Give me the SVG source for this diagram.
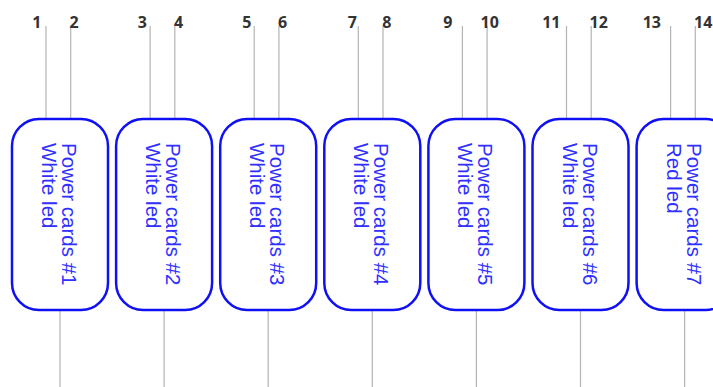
<svg xmlns="http://www.w3.org/2000/svg" width="713" height="387" viewBox="0 0 713 387">
<style>
.box{fill:#fff;stroke:#1010f5;stroke-width:2.5}
.lbl{font-family:"Liberation Sans",Arial,sans-serif;font-size:20.5px;fill:#3030ff}
.pin{stroke:#b4b4b4;stroke-width:1.2;fill:none}
.num{font-family:"Noto Sans","Open Sans",sans-serif;font-size:16px;font-weight:bold;fill:#333}
</style>
<rect width="713" height="387" fill="#fff"/>
<g id="connectors">
<path class="pin" d="M46,26V119M70.7,26V119M150.1,26V119M174.8,26V119M254.2,26V119M278.9,26V119M358.3,26V119M383,26V119M462.4,26V119M487.1,26V119M566.5,26V119M591.2,26V119M670.6,26V119M695.3,26V119"/>
<path class="pin" d="M60,310V387M164.1,310V387M268.2,310V387M372.3,310V387M476.4,310V387M580.5,310V387M684.6,310V387"/>
</g>
<g id="pin-labels">
<text class="num" x="41.5" y="27.5" text-anchor="end">1</text>
<text class="num" x="69.5" y="27.5">2</text>
<text class="num" x="147" y="27.5" text-anchor="end">3</text>
<text class="num" x="174" y="27.5">4</text>
<text class="num" x="251.5" y="27.5" text-anchor="end">5</text>
<text class="num" x="278" y="27.5">6</text>
<text class="num" x="357" y="27.5" text-anchor="end">7</text>
<text class="num" x="382.3" y="27.5">8</text>
<text class="num" x="452.5" y="27.5" text-anchor="end">9</text>
<text class="num" x="480.5" y="27.5">10</text>
<text class="num" x="560.5" y="27.5" text-anchor="end">11</text>
<text class="num" x="589.5" y="27.5">12</text>
<text class="num" x="661" y="27.5" text-anchor="end">13</text>
<text class="num" x="694" y="27.5">14</text>
</g>
<g id="node1"><rect class="box" x="12" y="119" width="96" height="191" rx="27"/><text class="lbl" transform="translate(62,143) rotate(90)"><tspan x="0" y="0">Power cards #1</tspan><tspan x="0" dy="20">White led</tspan></text></g>
<g id="node2"><rect class="box" x="116.1" y="119" width="96" height="191" rx="27"/><text class="lbl" transform="translate(166.1,143) rotate(90)"><tspan x="0" y="0">Power cards #2</tspan><tspan x="0" dy="20">White led</tspan></text></g>
<g id="node3"><rect class="box" x="220.2" y="119" width="96" height="191" rx="27"/><text class="lbl" transform="translate(270.2,143) rotate(90)"><tspan x="0" y="0">Power cards #3</tspan><tspan x="0" dy="20">White led</tspan></text></g>
<g id="node4"><rect class="box" x="324.3" y="119" width="96" height="191" rx="27"/><text class="lbl" transform="translate(374.3,143) rotate(90)"><tspan x="0" y="0">Power cards #4</tspan><tspan x="0" dy="20">White led</tspan></text></g>
<g id="node5"><rect class="box" x="428.4" y="119" width="96" height="191" rx="27"/><text class="lbl" transform="translate(478.4,143) rotate(90)"><tspan x="0" y="0">Power cards #5</tspan><tspan x="0" dy="20">White led</tspan></text></g>
<g id="node6"><rect class="box" x="532.5" y="119" width="96" height="191" rx="27"/><text class="lbl" transform="translate(582.5,143) rotate(90)"><tspan x="0" y="0">Power cards #6</tspan><tspan x="0" dy="20">White led</tspan></text></g>
<g id="node7"><rect class="box" x="636.6" y="119" width="96" height="191" rx="27"/><text class="lbl" transform="translate(686.6,143) rotate(90)"><tspan x="0" y="0">Power cards #7</tspan><tspan x="0" dy="20">Red led</tspan></text></g>
</svg>
